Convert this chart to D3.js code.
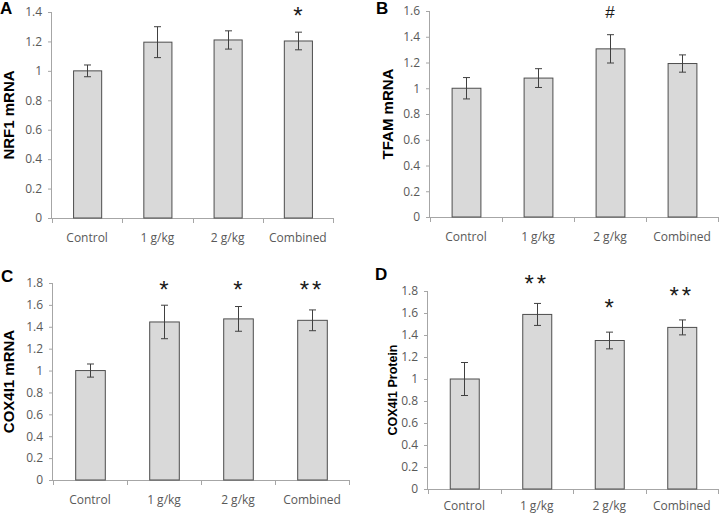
<!DOCTYPE html>
<html>
<head>
<meta charset="utf-8">
<script src="https://cdn.jsdelivr.net/npm/d3@7"></script>
<style>
  html, body { margin: 0; padding: 0; background: #fff; }
  svg { display: block; }
</style>
</head>
<body>
<svg id="chart" width="720" height="514"></svg>
<script>
// ---- data ----
const categories = ["Control", "1 g/kg", "2 g/kg", "Combined"];

const nrf1Mean = [1.00, 1.195, 1.21, 1.203];
const nrf1Err  = [0.04, 0.105, 0.062, 0.06];
const nrf1Marks = ["", "", "", "*"];
const nrf1Ticks = [0, 0.2, 0.4, 0.6, 0.8, 1, 1.2, 1.4];

const tfamMean = [1.00, 1.079, 1.306, 1.192];
const tfamErr  = [0.083, 0.073, 0.11, 0.067];
const tfamMarks = ["", "", "#", ""];
const tfamTicks = [0, 0.2, 0.4, 0.6, 0.8, 1, 1.2, 1.4, 1.6];

const coxMrnaMean = [1.00, 1.444, 1.472, 1.459];
const coxMrnaErr  = [0.06, 0.153, 0.113, 0.095];
const coxMrnaMarks = ["", "*", "*", "**"];
const coxMrnaTicks = [0, 0.2, 0.4, 0.6, 0.8, 1, 1.2, 1.4, 1.6, 1.8];

const coxProtMean = [1.00, 1.587, 1.35, 1.469];
const coxProtErr  = [0.15, 0.10, 0.076, 0.068];
const coxProtMarks = ["", "**", "*", "**"];
const coxProtTicks = [0, 0.2, 0.4, 0.6, 0.8, 1, 1.2, 1.4, 1.6, 1.8];

// ---- layout ----
const panels = [
  { letter: "A", title: "NRF1 mRNA", mean: nrf1Mean, err: nrf1Err, marks: nrf1Marks, ticks: nrf1Ticks,
    left: 52, right: 333, top: 12, bottom: 218, letterX: 0, letterY: 14,
    titleX: 14, titleSize: 15, labelOffset: 24, markY: [0, 0, 0, 1.41] },
  { letter: "B", title: "TFAM mRNA", mean: tfamMean, err: tfamErr, marks: tfamMarks, ticks: tfamTicks,
    left: 430, right: 718, top: 11, bottom: 217, letterX: 376, letterY: 14,
    titleX: 393, titleSize: 15, labelOffset: 24, markY: [0, 0, 1.59, 0] },
  { letter: "C", title: "COX4I1 mRNA", mean: coxMrnaMean, err: coxMrnaErr, marks: coxMrnaMarks, ticks: coxMrnaTicks,
    left: 53, right: 349, top: 283, bottom: 480, letterX: 1, letterY: 282,
    titleX: 14, titleSize: 15, labelOffset: 24, markY: [0, 1.79, 1.79, 1.79] },
  { letter: "D", title: "COX4I1 Protein", mean: coxProtMean, err: coxProtErr, marks: coxProtMarks, ticks: coxProtTicks,
    left: 428, right: 718, top: 291, bottom: 489, letterX: 375, letterY: 280,
    titleX: 397, titleSize: 12.5, labelOffset: 21, markY: [0, 1.918, 1.70, 1.81] }
];

const svg = d3.select("#chart");
const axisColor = "#a6a6a6";
const textGray = "#595959";
const barStroke = "#4d4d4d";

panels.forEach(p => {
  const g = svg.append("g");
  const maxV = p.ticks[p.ticks.length - 1];
  const x = d3.scaleBand().domain(categories).range([p.left, p.right])
    .paddingInner(0.6).paddingOuter(0.3);
  const y = d3.scaleLinear().domain([0, maxV]).range([p.bottom, p.top]);

  // y axis
  const yAxis = g.append("g")
    .attr("transform", `translate(${p.left},0)`)
    .call(d3.axisLeft(y).tickValues(p.ticks).tickSize(4).tickPadding(6)
      .tickFormat(d => String(+d.toFixed(1))));
  yAxis.select(".domain").attr("stroke", axisColor).attr("d", `M-0.5,${p.top}V${p.bottom}`);
  yAxis.selectAll(".tick line").attr("stroke", axisColor);
  yAxis.selectAll(".tick text").attr("fill", textGray)
    .style("font-family", "'Open Sans', sans-serif").style("font-size", "12px");

  // x axis
  const step = x.step();
  const bounds = d3.range(categories.length + 1).map(i => p.left + i * step);
  g.append("line").attr("x1", p.left).attr("x2", p.right)
    .attr("y1", p.bottom + 0.5).attr("y2", p.bottom + 0.5).attr("stroke", axisColor);
  g.selectAll(".xt").data(bounds).join("line")
    .attr("x1", d => Math.round(d) + 0.5).attr("x2", d => Math.round(d) + 0.5)
    .attr("y1", p.bottom).attr("y2", p.bottom + 5).attr("stroke", axisColor);
  g.selectAll(".xl").data(categories).join("text")
    .attr("x", d => x(d) + x.bandwidth() / 2)
    .attr("y", p.bottom + p.labelOffset)
    .attr("text-anchor", "middle")
    .attr("fill", textGray)
    .style("font-family", "'Open Sans', sans-serif").style("font-size", "12px")
    .text(d => d);

  // bars
  g.selectAll(".bar").data(p.mean).join("rect")
    .attr("x", (d, i) => x(categories[i]) + 0.5)
    .attr("y", d => y(d))
    .attr("width", x.bandwidth())
    .attr("height", d => y(0) - y(d))
    .attr("fill", "#d9d9d9")
    .attr("stroke", barStroke).attr("stroke-width", 1);

  // error bars
  const cap = 3.5;
  p.mean.forEach((m, i) => {
    const cx = Math.round(x(categories[i]) + x.bandwidth() / 2) + 0.5;
    const e = p.err[i];
    const eg = g.append("g").attr("stroke", "#404040").attr("stroke-width", 1);
    eg.append("line").attr("x1", cx).attr("x2", cx).attr("y1", y(m + e)).attr("y2", y(m - e));
    eg.append("line").attr("x1", cx - cap).attr("x2", cx + cap).attr("y1", y(m + e)).attr("y2", y(m + e));
    eg.append("line").attr("x1", cx - cap).attr("x2", cx + cap).attr("y1", y(m - e)).attr("y2", y(m - e));
  });

  // significance marks
  p.marks.forEach((mk, i) => {
    if (!mk) return;
    const cx = x(categories[i]) + x.bandwidth() / 2;
    const isHash = mk === "#";
    const fs = isHash ? 17 : 24;
    const cy = y(p.markY[i]);
    g.append("text")
      .attr("x", cx)
      .attr("y", isHash ? cy + 6 : cy + 0.58 * fs)
      .attr("text-anchor", "middle")
      .attr("fill", "#1a1a1a")
      .style("font-family", "'Liberation Sans', Arial, sans-serif")
      .style("font-size", fs + "px")
      .style("letter-spacing", mk.length > 1 ? "3px" : "0px")
      .text(mk);
  });

  // y title
  g.append("text")
    .attr("transform", `translate(${p.titleX},${(p.top + p.bottom) / 2}) rotate(-90)`)
    .attr("text-anchor", "middle")
    .attr("fill", "#000")
    .style("font-family", "'Liberation Sans', Arial, sans-serif")
    .style("font-weight", "bold")
    .style("font-size", p.titleSize + "px")
    .text(p.title);

  // panel letter
  g.append("text")
    .attr("x", p.letterX).attr("y", p.letterY)
    .attr("fill", "#000")
    .style("font-family", "'Liberation Sans', Arial, sans-serif")
    .style("font-weight", "bold")
    .style("font-size", "17px")
    .text(p.letter);
});
</script>
</body>
</html>
